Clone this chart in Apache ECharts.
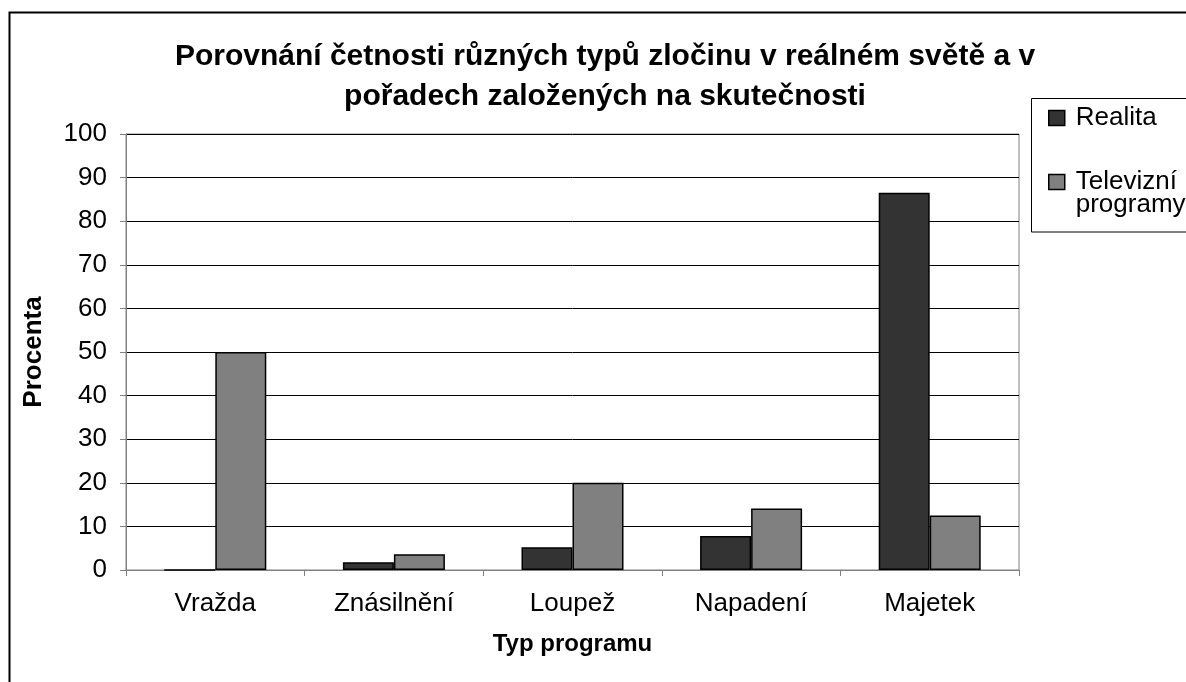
<!DOCTYPE html>
<html>
<head>
<meta charset="utf-8">
<script src="https://cdn.jsdelivr.net/npm/echarts@6/dist/echarts.min.js"></script>
<style>
html,body{margin:0;padding:0;background:#fff;}
#c{width:1186px;height:682px;}
</style>
</head>
<body>
<div id="c"></div>
<script>
var categories = ["Vražda", "Znásilnění", "Loupež", "Napadení", "Majetek"];
var realita = [0, 1.8, 5.2, 7.8, 86.5];
var televize = [50, 3.6, 20, 14.1, 12.5];
var seriesNames = ["Realita", "Televizní\nprogramy"];
var titleText = "Porovnání četnosti různých typů zločinu v reálném světě a v\npořadech založených na skutečnosti";

var chart = echarts.init(document.getElementById('c'));
var font = 'Liberation Sans, Arial, sans-serif';
chart.setOption({
  animation: false,
  backgroundColor: '#fff',
  textStyle: {fontFamily: font},
  graphic: [
    {type: 'rect', shape: {x: 9.5, y: 12.5, width: 1200, height: 700},
     style: {fill: 'none', stroke: '#000', lineWidth: 2}, z: -1},
    {type: 'rect', shape: {x: 1031.5, y: 98.5, width: 200, height: 133.5},
     style: {fill: '#fff', stroke: '#000', lineWidth: 1}, z: 0}
  ],
  title: {
    text: titleText, left: 600, top: 32, textAlign: 'center',
    textStyle: {fontFamily: font, fontSize: 30, fontWeight: 'bold', color: '#000', lineHeight: 40}
  },
  legend: [
    {
      left: 1048, top: 105, padding: 0, z: 5,
      itemWidth: 16, itemHeight: 15, icon: 'rect',
      itemStyle: {borderColor: '#000', borderWidth: 1.5},
      textStyle: {fontFamily: font, fontSize: 26, color: '#000', lineHeight: 26, padding: [0, 0, 0, 6]},
      data: [seriesNames[0]]
    },
    {
      left: 1048, top: 146, padding: 0, z: 5,
      itemWidth: 16, itemHeight: 15, icon: 'rect',
      itemStyle: {borderColor: '#000', borderWidth: 1.5},
      textStyle: {fontFamily: font, fontSize: 26, color: '#000', lineHeight: 23, padding: [0, 0, 0, 6]},
      formatter: function (name) { return ' \n' + name; },
      data: [seriesNames[1]]
    }
  ],
  grid: {left: 126, right: 167, top: 134, bottom: 112, show: true, borderColor: '#808080', borderWidth: 1},
  xAxis: {
    type: 'category', data: categories,
    name: 'Typ programu', nameLocation: 'middle', nameGap: 62,
    nameTextStyle: {fontFamily: font, fontSize: 24, fontWeight: 'bold', color: '#000'},
    axisLine: {lineStyle: {color: '#808080', width: 1}},
    axisTick: {show: true, length: 6, lineStyle: {color: '#808080'}},
    axisLabel: {fontFamily: font, fontSize: 26, color: '#000', margin: 21}
  },
  yAxis: {
    type: 'value', min: 0, max: 100, interval: 10,
    name: 'Procenta', nameLocation: 'middle', nameGap: 79, nameRotate: 90,
    nameTextStyle: {fontFamily: font, fontSize: 26, fontWeight: 'bold', color: '#000'},
    axisLine: {show: true, lineStyle: {color: '#808080', width: 1}},
    axisTick: {show: true, length: 6, lineStyle: {color: '#808080'}},
    axisLabel: {fontFamily: font, fontSize: 26, color: '#000', margin: 19},
    splitLine: {lineStyle: {color: '#000', width: 1}}
  },
  series: [
    {name: seriesNames[0], type: 'bar', data: realita, barWidth: 51, barGap: '0%',
     itemStyle: {color: '#333333', borderColor: '#000', borderWidth: 1.5}},
    {name: seriesNames[1], type: 'bar', data: televize, barWidth: 51, barGap: '0%',
     itemStyle: {color: '#808080', borderColor: '#000', borderWidth: 1.5}}
  ]
});
</script>
</body>
</html>
